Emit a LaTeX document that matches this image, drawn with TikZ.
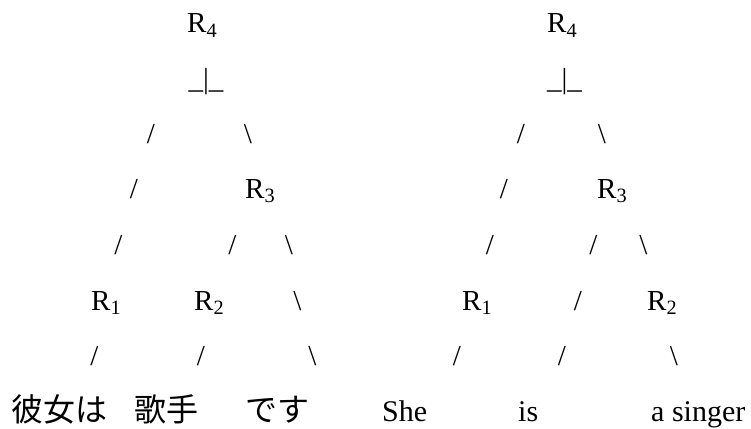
\documentclass[tikz,border=0pt]{standalone}
\usepackage{fontspec}
\setmainfont{Liberation Serif}
\newfontfamily\jpfont{Noto Sans CJK JP}
\begin{document}
\begin{tikzpicture}[x=1pt,y=-1pt,
  g/.style={anchor=base,inner sep=0pt,font=\fontsize{29}{35}\selectfont},
  gw/.style={g,anchor=base west},
  en/.style={anchor=base west,inner sep=0pt,font=\fontsize{30}{36}\selectfont},
  jp/.style={anchor=base west,inner sep=0pt,font=\jpfont\fontsize{32}{38}\selectfont}]
\useasboundingbox (0,0) rectangle (751,428);
\def\bA{33}\def\bB{88}\def\bC{143}\def\bD{198}
\def\bE{254}\def\bF{310}\def\bG{365}\def\bH{421}
% ---------- left tree ----------
\node[gw] (lR4) at (187,\bA) {R\textsubscript{4}};
\node[g]  (lT)  at (206,\bB) {\textunderscore\textbar\textunderscore};
\node[g]  (l3a) at (151,\bC) {/};
\node[g]  (l3b) at (248,\bC) {\textbackslash};
\node[g]  (l4a) at (134,\bD) {/};
\node[gw] (lR3) at (245,\bD) {R\textsubscript{3}};
\node[g]  (l5a) at (118.5,\bE) {/};
\node[g]  (l5b) at (232.5,\bE) {/};
\node[g]  (l5c) at (289,\bE) {\textbackslash};
\node[gw] (lR1) at (91,\bF) {R\textsubscript{1}};
\node[gw] (lR2) at (194,\bF) {R\textsubscript{2}};
\node[g]  (l6c) at (297.5,\bF) {\textbackslash};
\node[g]  (l7a) at (94.5,\bG) {/};
\node[g]  (l7b) at (201,\bG) {/};
\node[g]  (l7c) at (312.5,\bG) {\textbackslash};
\node[jp] (lw1) at (11,\bH) {彼女は};
\node[jp] (lw2) at (134,\bH) {歌手};
\node[jp] (lw3) at (245,\bH) {です};
% ---------- right tree ----------
\node[gw] (rR4) at (547,\bA) {R\textsubscript{4}};
\node[g]  (rT)  at (564.5,\bB) {\textunderscore\textbar\textunderscore};
\node[g]  (r3a) at (521,\bC) {/};
\node[g]  (r3b) at (602,\bC) {\textbackslash};
\node[g]  (r4a) at (504,\bD) {/};
\node[gw] (rR3) at (597,\bD) {R\textsubscript{3}};
\node[g]  (r5a) at (490,\bE) {/};
\node[g]  (r5b) at (593.5,\bE) {/};
\node[g]  (r5c) at (643.5,\bE) {\textbackslash};
\node[gw] (rR1) at (462,\bF) {R\textsubscript{1}};
\node[g]  (r6b) at (578,\bF) {/};
\node[gw] (rR2) at (647,\bF) {R\textsubscript{2}};
\node[g]  (r7a) at (457,\bG) {/};
\node[g]  (r7b) at (562,\bG) {/};
\node[g]  (r7c) at (674,\bG) {\textbackslash};
\node[en] (rw1) at (382,\bH) {She};
\node[en] (rw2) at (518,\bH) {is};
\node[en] (rw3) at (651,\bH) {a singer};
\end{tikzpicture}
\end{document}
